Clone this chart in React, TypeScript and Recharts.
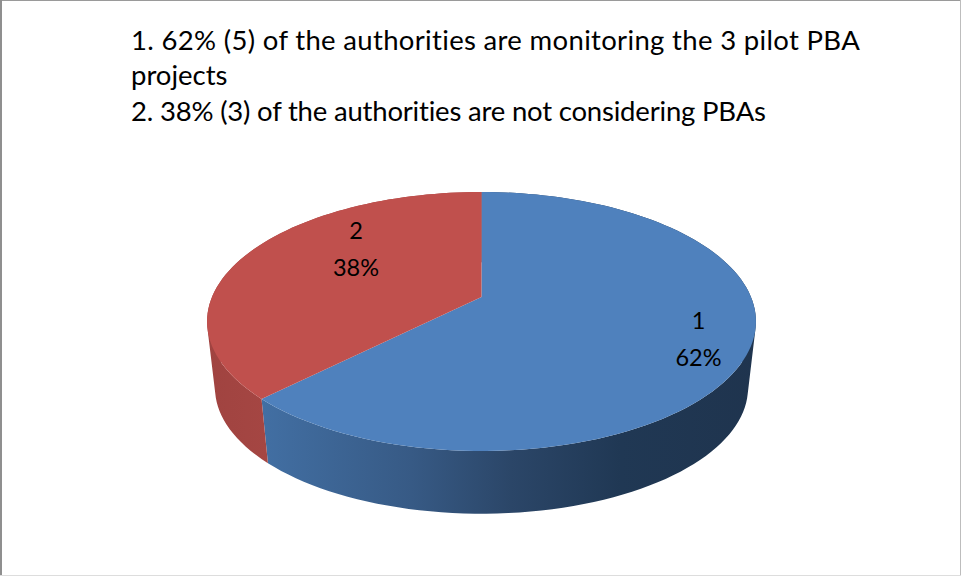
import React from "react";
import { PieChart, Pie } from "recharts";

const categories = ["1", "2"];
const counts = [5, 3];
const percentLabels = ["62%", "38%"];
const topColors = ["#4f81bd", "#c0504d"];
const titleLines = [
  "1. 62% (5) of the authorities are monitoring the 3 pilot PBA",
  "projects",
  "2. 38% (3) of the authorities are not considering PBAs",
];
const titleTracking = [0.33, 0, -0.19];

const tableRows = categories.map((name, i) => ({ name, value: counts[i], pct: percentLabels[i] }));

const W = 961;
const H = 576;
const CX = 481.5;
const CY = 321.5;
const R = 269.5;
const TILT = 0.4805;
const PERSP = -0.189;
const APEX_SHIFT = -24.5;
const BOTTOM_SCALE = 0.971;
const BOTTOM_CY_SHIFT = 66.5;
const FONT = "Lato, Carlito, sans-serif";

type Pt = { x: number; y: number };

const project = (cx: number, cy: number, r: number, deg: number, frac = 1): Pt => {
  const a = (deg * Math.PI) / 180;
  const u = Math.cos(a) * frac;
  const v = -Math.sin(a) * frac;
  const d = 1 + PERSP * v;
  return { x: cx + (r * u) / d, y: cy + (r * TILT * v + APEX_SHIFT) / d };
};

const arcPoints = (p: any) => {
  const n = Math.max(8, Math.ceil(Math.abs(p.endAngle - p.startAngle) / 2));
  const pts: Pt[] = [];
  for (let i = 0; i <= n; i++) {
    pts.push(project(p.cx, p.cy, p.outerRadius, p.startAngle + ((p.endAngle - p.startAngle) * i) / n));
  }
  return pts;
};

const toPath = (pts: Pt[]) =>
  pts.map((q, i) => `${i ? "L" : "M"}${q.x.toFixed(2)} ${q.y.toFixed(2)}`).join(" ") + " Z";

const signedArea = (pts: Pt[]) =>
  pts.reduce((sum, q, i) => {
    const n = pts[(i + 1) % pts.length];
    return sum + q.x * n.y - n.x * q.y;
  }, 0);

const TopFace = (p: any) => {
  const apex = project(p.cx, p.cy, p.outerRadius, 0, 0);
  return <path d={toPath([apex, ...arcPoints(p)])} fill={topColors[p.index]} />;
};

const SideFace = (p: any) => {
  const top = arcPoints(p);
  const bottom = top.map((q) => ({
    x: p.cx + (q.x - p.cx) * BOTTOM_SCALE,
    y: p.cy + BOTTOM_CY_SHIFT + (q.y - p.cy) * BOTTOM_SCALE,
  }));
  const d = top
    .slice(1)
    .map((q, i) => {
      const quad = [top[i], q, bottom[i + 1], bottom[i]];
      return toPath(signedArea(quad) < 0 ? quad.reverse() : quad);
    })
    .join(" ");
  return <path d={d} fill={`url(#side${p.index})`} fillRule="nonzero" />;
};

const SliceLabel = (p: any) => {
  const spot = p.index === 0 ? project(p.cx, p.cy, R, p.midAngle, 0.82) : { x: 356, y: 249 };
  const row = tableRows[p.index];
  return (
    <text x={spot.x} textAnchor="middle" fontFamily={FONT} fontSize={23.5} fill="#000">
      <tspan x={spot.x} y={spot.y - 10}>{row.name}</tspan>
      <tspan x={spot.x} y={spot.y + 27}>{row.pct}</tspan>
    </text>
  );
};

const edge = (style: React.CSSProperties) => (
  <div style={{ position: "absolute", ...style }} />
);

export default function App() {
  return (
    <div style={{ position: "absolute", left: 0, top: 0, width: W, height: H, background: "#fff", overflow: "hidden" }}>
      {titleLines.map((line, i) => (
        <div
          key={i}
          style={{
            position: "absolute",
            left: 131,
            top: 21.5 + i * 35.5,
            fontFamily: FONT,
            fontSize: 27.5,
            lineHeight: "36px",
            color: "#000",
            whiteSpace: "nowrap",
            fontVariantLigatures: "none",
            letterSpacing: titleTracking[i],
          }}
        >
          {line}
        </div>
      ))}
      <PieChart width={W} height={H} margin={{ top: 0, right: 0, bottom: 0, left: 0 }} style={{ position: "absolute", left: 0, top: 0 }}>
        <defs>
          <linearGradient id="side0" gradientUnits="userSpaceOnUse" x1="262" y1="0" x2="760" y2="0">
            <stop offset="0" stopColor="#426fa3" />
            <stop offset="0.3" stopColor="#375a85" />
            <stop offset="0.5" stopColor="#2b4668" />
            <stop offset="0.72" stopColor="#203854" />
            <stop offset="1" stopColor="#1f344e" />
          </linearGradient>
          <linearGradient id="side1" gradientUnits="userSpaceOnUse" x1="207" y1="0" x2="268" y2="0">
            <stop offset="0" stopColor="#a04340" />
            <stop offset="1" stopColor="#a54643" />
          </linearGradient>
        </defs>
        <Pie
          data={tableRows}
          dataKey="value"
          nameKey="name"
          cx={CX}
          cy={CY}
          outerRadius={R}
          startAngle={90}
          endAngle={-270}
          stroke="none"
          shape={SideFace}
          isAnimationActive={false}
          legendType="none"
        />
        <Pie
          data={tableRows}
          dataKey="value"
          nameKey="name"
          cx={CX}
          cy={CY}
          outerRadius={R}
          startAngle={90}
          endAngle={-270}
          stroke="none"
          shape={TopFace}
          label={SliceLabel}
          labelLine={false}
          isAnimationActive={false}
        />
      </PieChart>
      {edge({ left: 0, top: 0, width: W, height: 1, background: "#9a9a9a" })}
      {edge({ left: 0, top: 0, width: 2, height: H, background: "#8f8f8f" })}
      {edge({ left: 960, top: 0, width: 1, height: H, background: "#bdbdbd" })}
      {edge({ left: 0, top: 575, width: W, height: 1, background: "#dddddd" })}
    </div>
  );
}
